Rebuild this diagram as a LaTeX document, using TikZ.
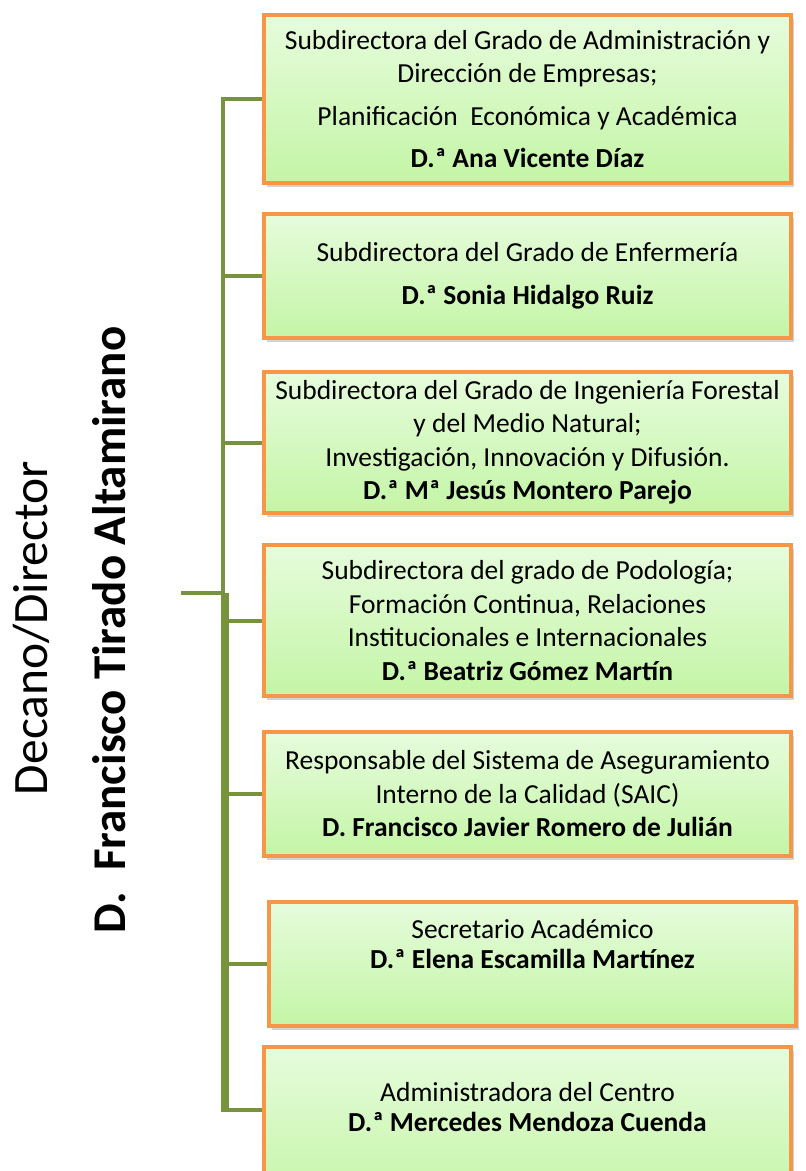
\documentclass[tikz,border=0pt]{standalone}
\usepackage{fontspec}
\setmainfont{Carlito}
\usetikzlibrary{positioning, shadows}
\definecolor{linkgreen}{RGB}{119,147,60}
\definecolor{boxorange}{RGB}{247,150,70}
\definecolor{boxtop}{RGB}{230,252,220}
\definecolor{boxbottom}{RGB}{196,245,166}

\begin{document}
\begin{tikzpicture}[x=1pt, y=-1pt, post/.style={rectangle, draw=boxorange, line width=4pt, top color=boxtop, bottom color=boxbottom, minimum width=527pt, inner sep=4pt, align=center, font=\fontsize{27.5}{33.5}\selectfont, drop shadow={shadow xshift=3pt, shadow yshift=-4pt, opacity=0.35}}, link/.style={draw=linkgreen, line width=4pt}, title/.style={rotate=90, anchor=base, align=center}]

    \useasboundingbox (0,0) rectangle (806,1171);
    \clip (0,0) rectangle (806,1171);

    %Nodes
    \node[title, font=\fontsize{49.5}{55}\selectfont](role) at (47,628){Decano/Director};
    \node[title, font=\fontsize{47}{55}\selectfont\bfseries](dean) at (125,630){D.\ \ Francisco Tirado Altamirano};

    \node[post, minimum height=168pt](b1) at (527.5,99){Subdirectora del Grado de Administración y\\ Dirección de Empresas;\\[9pt] Planificación\ \ Económica y Académica\\[9pt] \textbf{D.ª Ana Vicente Díaz}};
    \node[post, minimum height=124pt](b2)[below=27pt of b1]{Subdirectora del Grado de Enfermería\\[9pt] \textbf{D.ª Sonia Hidalgo Ruiz}};
    \node[post, minimum height=141pt](b3)[below=30pt of b2]{Subdirectora del Grado de Ingeniería Forestal\\ y del Medio Natural;\\ Investigación, Innovación y Difusión.\\ \textbf{D.ª Mª Jesús Montero Parejo}};
    \node[post, minimum height=151pt](b4)[below=28pt of b3]{Subdirectora del grado de Podología;\\ Formación Continua, Relaciones\\ Institucionales e Internacionales\\ \textbf{D.ª Beatriz Gómez Martín}};
    \node[post, minimum height=124pt](b5)[below=32pt of b4]{Responsable del Sistema de Aseguramiento\\ Interno de la Calidad (SAIC)\\ \textbf{D. Francisco Javier Romero de Julián}};
    \node[post, minimum height=124pt, xshift=5pt](b6)[below=42pt of b5]{Secretario Académico\\[-3pt] \textbf{D.ª Elena Escamilla Martínez}\\[-3pt] \strut};
    % the last box runs off the page
    \node[post, minimum height=160pt, xshift=-5pt](b7)[below=17pt of b6]{Administradora del Centro\\[-3pt] \textbf{D.ª Mercedes Mendoza Cuenda}\\[-3pt] \strut};

    \coordinate (trunk) at (223,0);
    \coordinate (trunkb) at (226.5,0);
    \coordinate (root) at (181,593);
    \coordinate (last) at (262,1110);

    %Lines
    \draw[link] (b1.west) -| (trunk |- last) -- (last);
    \foreach \b in {b2,b3,b4,b5,b6}
        \draw[link] (trunk |- \b.west) -- (\b.west);
    \draw[link] (root) -- (trunk |- root);
    \draw[link] (trunkb |- root) -- (trunkb |- last);

\end{tikzpicture}
\end{document}
